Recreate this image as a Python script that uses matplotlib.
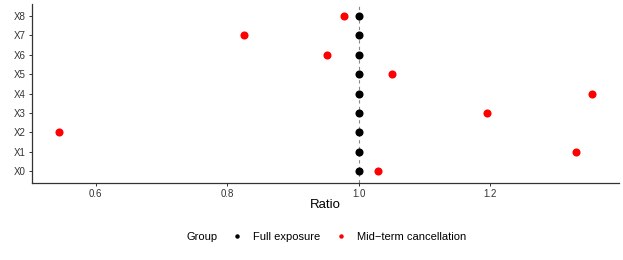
import matplotlib.pyplot as plt
from matplotlib.lines import Line2D

plt.rcParams["font.family"] = ["Liberation Sans", "DejaVu Sans"]

categories = ["X0", "X1", "X2", "X3", "X4", "X5", "X6", "X7", "X8"]
full_exposure = [1.0, 1.0, 1.0, 1.0, 1.0, 1.0, 1.0, 1.0, 1.0]
mid_term = [1.029, 1.330, 0.544, 1.195, 1.355, 1.051, 0.952, 0.826, 0.978]
x_ticks = [0.6, 0.8, 1.0, 1.2]

W, H = 623, 260
fig = plt.figure(figsize=(W / 100, H / 100), dpi=100)
ax = fig.add_axes([32 / W, (H - 183) / H, (619 - 32) / W, (183 - 4) / H])

ypos = list(range(len(categories)))
ax.axvline(1.0, color="#888888", lw=0.8, ls=(0, (3, 3)), zorder=1)
ax.scatter(mid_term, ypos, s=34, color="#ff0000", zorder=3, linewidths=0)
ax.scatter(full_exposure, ypos, s=34, color="black", zorder=3, linewidths=0)

lo, hi = min(mid_term), max(mid_term)
pad = (hi - lo) * 0.05
ax.set_xlim(lo - pad, hi + pad)
ax.set_ylim(-0.6, len(categories) - 1 + 0.6)
ax.set_yticks(ypos)
ax.set_yticklabels(categories)
ax.set_xticks(x_ticks)
ax.set_xticklabels([f"{t:.1f}" for t in x_ticks])

for s in ["top", "right"]:
    ax.spines[s].set_visible(False)
for s in ["left", "bottom"]:
    ax.spines[s].set_color("#333333")
    ax.spines[s].set_linewidth(0.9)
ax.tick_params(axis="both", length=2.5, width=0.7, color="#333333",
               labelsize=7, labelcolor="#333333", pad=2)

ax.set_xlabel("Ratio", fontsize=9.5, labelpad=0)

fig.text(186.5 / W, 1 - 237 / H, "Group", fontsize=8, va="center", ha="left")
handles = [
    Line2D([], [], marker="o", ls="", color="black", markersize=2.2),
    Line2D([], [], marker="o", ls="", color="#ff0000", markersize=2.2),
]
fig.legend(handles, ["Full exposure", "Mid\u2212term cancellation"],
           loc="center left", bbox_to_anchor=(230 / W, 1 - 237 / H),
           ncol=2, frameon=False, fontsize=8, handlelength=1.2,
           handletextpad=0.9, columnspacing=1.2, borderaxespad=0, borderpad=0)

fig.savefig("out.png", dpi=100)
